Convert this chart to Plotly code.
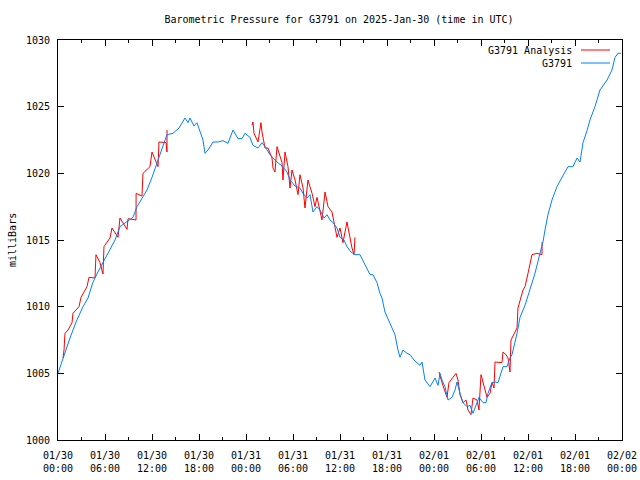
import plotly.graph_objects as go
import pandas as pd

BASE = pd.Timestamp("2025-01-30 00:00")

# Observed station pressure (hours since 2025-01-30 00:00 UTC, millibars)
obs_hours = [0, 0.77, 1.53, 2.3, 3.19, 3.83, 4.47, 5.1, 5.74, 6.64, 7.28, 7.91, 8.8, 9.57, 10.09,
             10.72, 11.36, 12.0, 12.64, 13.28, 13.91, 14.68, 15.45, 16.21, 16.6, 16.85, 17.36, 17.74,
             18.13, 18.51, 18.77, 19.15, 19.79, 20.43, 21.06, 21.7, 22.34, 22.98, 23.49, 23.87, 24.51,
             24.89, 25.53, 26.04, 26.43, 27.06, 27.96, 28.72, 29.23, 29.62, 30.26, 30.89, 31.28, 31.79,
             32.17, 32.55, 33.06, 33.45, 33.96, 34.34, 34.72, 35.11, 35.62, 36.0, 36.51, 36.89, 37.4,
             37.91, 38.55, 39.19, 39.83, 40.21, 40.72, 41.1, 41.36, 41.74, 42.38, 43.02, 43.4, 43.66,
             44.04, 44.55, 44.94, 45.45, 45.83, 46.21, 46.47, 46.85, 47.49, 47.87, 48.13, 48.51, 48.77,
             49.02, 49.4, 49.79, 50.3, 50.68, 50.94, 51.32, 51.7, 52.21, 52.6, 52.98, 53.49, 53.74,
             54.26, 54.64, 54.89, 55.4, 55.79, 56.17, 56.81, 57.32, 57.7, 57.96, 58.6, 58.98, 59.62,
             60.26, 60.89, 61.53, 61.91, 62.17, 62.55, 63.06, 63.7, 64.34, 65.11, 65.74, 66.26, 66.64,
             67.02, 67.53, 67.91, 68.55, 69.19, 70.09, 70.72, 71.11, 71.49, 71.87]
obs_mb = [1005.0, 1006.4, 1007.65, 1008.85, 1010.0, 1010.65, 1011.85, 1012.6, 1013.3, 1014.25, 1015.0,
          1016.0, 1016.35, 1016.7, 1017.5, 1018.15, 1018.75, 1019.7, 1020.8, 1021.75, 1022.9, 1023.0,
          1023.4, 1024.15, 1023.8, 1024.15, 1023.55, 1023.8, 1023.1, 1022.5, 1021.5, 1021.75, 1022.35,
          1022.35, 1022.45, 1022.25, 1023.25, 1022.6, 1022.6, 1023.0, 1022.7, 1022.1, 1021.9, 1022.3,
          1022.0, 1021.4, 1020.85, 1020.5, 1020.1, 1019.5, 1019.05, 1018.9, 1018.5, 1018.15, 1018.4,
          1017.1, 1017.5, 1017.25, 1016.65, 1016.9, 1016.5, 1016.3, 1015.9, 1015.2, 1015.0, 1014.5,
          1014.1, 1013.9, 1013.9, 1013.1, 1012.4, 1012.4, 1011.8, 1011.0, 1010.65, 1009.6, 1008.8,
          1007.9, 1006.75, 1006.2, 1006.75, 1006.5, 1006.4, 1006.0, 1005.8, 1005.6, 1005.85, 1004.5,
          1004.0, 1004.35, 1004.65, 1004.1, 1005.0, 1004.5, 1004.0, 1003.0, 1003.2, 1003.75, 1004.35,
          1003.5, 1002.8, 1002.5, 1002.6, 1002.0, 1002.85, 1003.2, 1002.8, 1002.8, 1003.5, 1004.3,
          1004.35, 1004.3, 1005.5, 1005.5, 1006.15, 1006.4, 1008.0, 1009.2, 1010.1, 1011.25, 1012.5,
          1014.0, 1014.85, 1015.75, 1016.9, 1018.0, 1019.0, 1019.7, 1020.5, 1020.5, 1021.15, 1020.85,
          1022.3, 1023.2, 1024.0, 1025.0, 1026.25, 1027.0, 1027.75, 1028.7, 1029.0, 1029.0]

# Analysis pressure, three separate periods
ana1_hours = [0.64, 0.77, 0.89, 1.28, 1.79, 1.91, 2.68, 2.94, 3.7, 3.96, 4.72, 4.85, 5.36, 5.74, 5.87,
              6.64, 6.89, 7.66, 7.91, 8.81, 8.94, 9.96, 9.97, 10.72, 10.85, 11.74, 12.0, 12.77, 12.89,
              13.79, 13.91, 13.92]
ana1_mb = [1006.15, 1006.75, 1008.0, 1008.25, 1008.8, 1009.5, 1010.0, 1010.7, 1011.5, 1012.2, 1012.15,
           1013.9, 1013.3, 1012.45, 1014.5, 1015.15, 1015.9, 1015.2, 1016.65, 1015.8, 1016.6, 1016.5,
           1018.5, 1018.3, 1020.0, 1020.5, 1021.6, 1020.5, 1022.35, 1022.3, 1021.6, 1023.25]

ana2_hours = [24.77, 24.89, 25.02, 25.53, 25.91, 26.04, 26.43, 26.81, 27.32, 27.45, 27.7, 27.96, 28.6,
              28.72, 28.98, 29.36, 29.62, 29.87, 30.26, 30.64, 30.89, 31.28, 31.53, 31.91, 32.43, 32.81,
              33.06, 33.7, 34.09, 34.47, 34.98, 35.36, 35.62, 36.0, 36.38, 36.89, 37.15, 37.53, 37.79,
              37.91]
ana2_mb = [1023.6, 1023.85, 1023.0, 1022.35, 1023.8, 1023.1, 1021.9, 1021.9, 1021.15, 1020.4, 1020.1,
           1022.0, 1020.8, 1019.5, 1021.6, 1020.5, 1018.9, 1020.25, 1019.5, 1018.4, 1019.9, 1018.9,
           1017.4, 1019.5, 1018.5, 1017.5, 1018.2, 1016.5, 1018.6, 1017.5, 1017.1, 1015.9, 1015.2,
           1015.9, 1014.8, 1016.35, 1015.5, 1014.4, 1013.9, 1015.2]

ana3_hours = [48.64, 49.02, 49.66, 49.91, 50.81, 51.06, 51.32, 51.7, 52.09, 52.34, 52.72, 52.98, 53.49,
              53.74, 54.0, 54.26, 54.77, 55.15, 55.4, 55.66, 55.79, 56.68, 56.81, 57.19, 57.45, 57.7,
              57.83, 58.6, 58.72, 59.36, 59.62, 60.0, 60.51, 61.15, 61.79, 61.8]
ana3_mb = [1005.1, 1004.3, 1003.2, 1004.3, 1005.0, 1004.5, 1003.4, 1002.8, 1003.0, 1002.25, 1001.9,
           1003.15, 1003.0, 1002.25, 1004.9, 1004.3, 1003.2, 1003.5, 1004.3, 1003.9, 1005.85, 1005.8,
           1006.6, 1006.4, 1006.15, 1005.1, 1007.5, 1008.4, 1009.9, 1011.25, 1011.5, 1012.5, 1013.9,
           1014.0, 1013.9, 1014.85]

y_ticks = [1000, 1005, 1010, 1015, 1020, 1025, 1030]

FONT = "DejaVu Sans Mono"


def to_time(hours):
    return [None if h is None else BASE + pd.Timedelta(hours=h) for h in hours]


ana_hours = ana1_hours + [None] + ana2_hours + [None] + ana3_hours
ana_mb = ana1_mb + [None] + ana2_mb + [None] + ana3_mb

fig = go.Figure()
fig.add_trace(go.Scatter(x=to_time(ana_hours), y=ana_mb, mode="lines", name="G3791 Analysis",
                         line=dict(color="#ff0000", width=1), connectgaps=False))
fig.add_trace(go.Scatter(x=to_time(obs_hours), y=obs_mb, mode="lines", name="G3791",
                         line=dict(color="#0080ff", width=1)))

H = 3600 * 1000
fig.update_layout(
    width=640, height=480,
    margin=dict(l=58, r=18, t=40, b=40),
    plot_bgcolor="white", paper_bgcolor="white",
    showlegend=False,
    font=dict(family=FONT, size=10, color="black"),
    title=dict(text="Barometric Pressure for G3791 on 2025-Jan-30 (time in UTC)",
               x=339 / 640, xanchor="center", y=1 - 19 / 480, yanchor="middle",
               font=dict(family=FONT, size=10, color="black")),
    xaxis=dict(type="date", range=[BASE, BASE + pd.Timedelta(hours=72)],
               tick0=BASE, dtick=6 * H, tickformat="%m/%d<br>%H:%M",
               ticks="inside", ticklen=6, tickcolor="black", ticklabelstandoff=6,
               minor=dict(dtick=3 * H, ticks="inside", ticklen=3, tickcolor="black", showgrid=False),
               showline=True, linecolor="black", linewidth=1, mirror="allticks",
               showgrid=False, zeroline=False, automargin=False,
               tickfont=dict(family=FONT, size=10)),
    yaxis=dict(range=[1000, 1030], tickvals=y_ticks,
               ticks="inside", ticklen=6, tickcolor="black", ticklabelstandoff=5,
               showline=True, linecolor="black", linewidth=1, mirror="allticks",
               showgrid=False, zeroline=False, automargin=False,
               tickfont=dict(family=FONT, size=10)),
)

fig.add_annotation(text="milliBars", xref="paper", yref="paper", x=(12 - 58) / 564, y=0.5,
                   textangle=-90, showarrow=False, xanchor="center", yanchor="middle",
                   font=dict(family=FONT, size=10))

# legend drawn in the gnuplot manner: text right-aligned, line sample to the right
legend_items = [("G3791 Analysis", "#ff0000", 50), ("G3791", "#0080ff", 63)]
for label, color, ypx in legend_items:
    yp = 1 - (ypx - 40) / 400
    fig.add_annotation(text=label, xref="paper", yref="paper", x=(574 - 58) / 564, y=yp,
                       xanchor="right", yanchor="middle", showarrow=False,
                       font=dict(family=FONT, size=10))
    fig.add_shape(type="line", xref="paper", yref="paper", x0=(581 - 58) / 564, x1=(610 - 58) / 564,
                  y0=yp, y1=yp, line=dict(color=color, width=1))

fig.write_html("out.html", config={"displayModeBar": False},
               post_script="document.body.style.margin='0px';")
